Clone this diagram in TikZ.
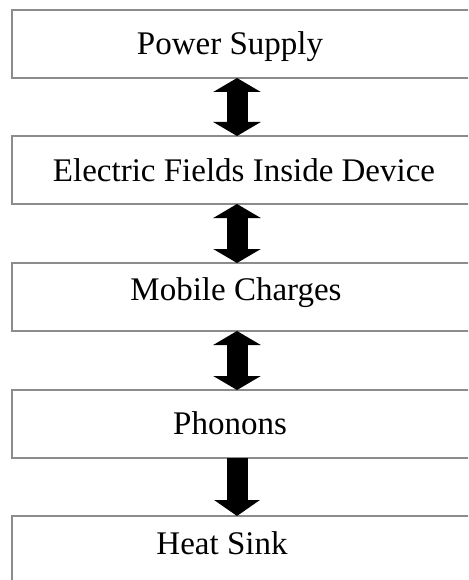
\documentclass[tikz,border=0pt]{standalone}
\usepackage{fontspec}
\setmainfont{Liberation Serif}
\usetikzlibrary{arrows.meta}

\tikzset{
  stage/.style={draw=black!45, line width=1.6pt, rectangle, minimum width=463pt,
    minimum height=68pt, inner sep=0pt, outer sep=0pt},
  caption/.style={anchor=base, inner sep=0pt, font=\fontsize{33}{40}\selectfont},
  twoway/.style={line width=21pt, {Triangle[width=47pt 0 0,length=14pt 0 0]}-{Triangle[width=47pt 0 0,length=14pt 0 0]}},
  oneway/.style={line width=21pt, -{Triangle[width=45pt 0 0,length=16pt 0 0]}}
}

\begin{document}
\begin{tikzpicture}[x=1pt, y=-1pt]
  \useasboundingbox (0,0) rectangle (468,580);
  \clip (0,0) rectangle (468,580);
  \fill[white] (0,0) rectangle (468,580);

  % stages of the energy path
  \node[stage] (ps) at (243.5,44)  {};
  \node[stage] (ef) at (243.5,170) {};
  \node[stage] (mc) at (243.5,297) {};
  \node[stage] (ph) at (243.5,424) {};
  \node[stage] (hs) at (243.5,550) {};

  \node[caption] (tps) at (230,55)    {Power Supply};
  \node[caption] (tef) at (244,181.7) {Electric Fields Inside Device};
  \node[caption] (tmc) at (236,300.7) {Mobile Charges};
  \node[caption] (tph) at (230,434.3) {Phonons};
  \node[caption] (ths) at (222,554)   {Heat Sink};

  % common axis of the block arrows
  \coordinate (ax) at (237,0);

  \draw[twoway] (ax |- ps.south) -- (ax |- ef.north);
  \draw[twoway] (ax |- ef.south) -- (ax |- mc.north);
  \draw[twoway] (ax |- mc.south) -- (ax |- ph.north);
  \draw[oneway] (ax |- ph.south) -- (ax |- hs.north);
\end{tikzpicture}
\end{document}
